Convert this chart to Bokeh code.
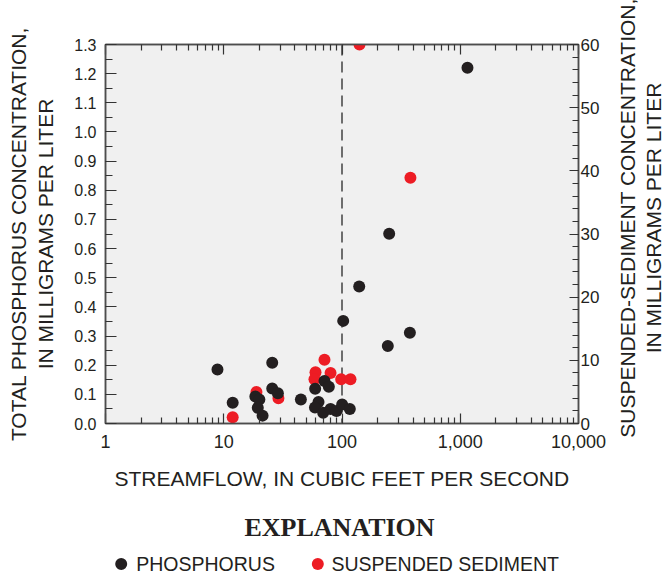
from bokeh.plotting import figure
from bokeh.layouts import column, row
from bokeh.models import (LinearAxis, LogAxis, Range1d, FixedTicker,
                          NumeralTickFormatter, Span)
from bokeh.core.properties import value
from bokeh.embed import file_html
from bokeh.resources import INLINE

# Streamflow (ft3/s) and total phosphorus (mg/L)
phos_flow = [8.85, 11.9, 25.7, 18.5, 20.0, 19.4, 21.3, 25.7, 28.7, 44.9,
             59.3, 63.3, 59.1, 69.3, 71.1, 77.4, 80.0, 89.9, 100.3, 116.4,
             102.4, 139.8, 250.6, 375.0, 244.0, 1151.0]
phos_conc = [0.185, 0.071, 0.208, 0.093, 0.082, 0.054, 0.027, 0.120, 0.104, 0.082,
             0.119, 0.074, 0.055, 0.037, 0.146, 0.126, 0.050, 0.043, 0.065, 0.050,
             0.352, 0.470, 0.651, 0.311, 0.266, 1.220]

# Streamflow (ft3/s) and suspended-sediment concentration (mg/L)
sed_flow = [11.9, 18.9, 29.0, 71.1, 59.7, 80.0, 58.5, 98.4, 118.0, 140.6, 379.0]
sed_conc = [1.0, 5.0, 4.0, 10.1, 8.1, 8.0, 7.0, 7.0, 7.0, 60.0, 38.9]

# Axis ticks
flow_major = [1, 10, 100, 1000, 10000]
flow_minor = [k * 10 ** d for d in range(4) for k in range(2, 10)]
phos_major = [round(i * 0.1, 1) for i in range(14)]
phos_minor = [round(i * 0.05, 2) for i in range(27)]
sed_major = list(range(0, 61, 10))
sed_minor = list(range(0, 61, 2))
threshold_flow = 100

series_names = ["PHOSPHORUS", "SUSPENDED SEDIMENT"]
explanation_title = "EXPLANATION"
sed_title = "SUSPENDED-SEDIMENT CONCENTRATION,\nIN MILLIGRAMS PER LITER"

BLACK = "#231f20"
RED = "#ed1c24"
AXIS = "#4d4d4d"
FONT = "Liberation Sans"

# page geometry (px)
TITLE_W = 58          # strip on the right holding the sediment axis title
MAIN_W = 665 - TITLE_W
MAIN_H = 500
KEY_H = 74
BORDER_L, BORDER_T, BORDER_B = 105, 44, 77
BORDER_R = MAIN_W - 578

p = figure(width=MAIN_W, height=MAIN_H, x_axis_type="log",
           x_range=Range1d(1, 10000), y_range=Range1d(0, 1.3),
           output_backend="svg", toolbar_location=None,
           min_border_left=BORDER_L, min_border_right=BORDER_R,
           min_border_top=BORDER_T, min_border_bottom=BORDER_B,
           background_fill_color="#f0f0f0", border_fill_color="white",
           outline_line_color=AXIS, outline_line_width=1.5)
p.extra_y_ranges = {"sed": Range1d(0, 60)}
p.grid.visible = False


def style(ax, label_size, title_size="21px"):
    ax.axis_line_color = AXIS
    ax.axis_line_width = 1.5
    ax.major_tick_line_color = "#333333"
    ax.minor_tick_line_color = "#333333"
    ax.major_tick_line_width = 1.2
    ax.minor_tick_line_width = 1.2
    ax.major_tick_out = 0
    ax.minor_tick_out = 0
    ax.major_label_text_font = FONT
    ax.major_label_text_font_size = label_size
    ax.major_label_text_color = BLACK
    ax.axis_label_text_font = FONT
    ax.axis_label_text_font_size = title_size
    ax.axis_label_text_font_style = "normal"
    ax.axis_label_text_color = BLACK


flow_ticker = FixedTicker(ticks=flow_major, minor_ticks=flow_minor)

# bottom axis
xb = p.xaxis[0]
xb.ticker = flow_ticker
xb.formatter = NumeralTickFormatter(format="0,0")
style(xb, "18px")
xb.major_tick_in = 10
xb.minor_tick_in = 6
xb.major_label_standoff = 11
xb.axis_label = "STREAMFLOW, IN CUBIC FEET PER SECOND"
xb.axis_label_standoff = 16

# top axis (ticks only, labels hidden)
xt = LogAxis(ticker=flow_ticker)
style(xt, "10px")
xt.major_tick_in = 10
xt.minor_tick_in = 6
xt.major_label_text_alpha = 0
xt.major_label_standoff = 0
p.add_layout(xt, "above")

# left axis: phosphorus
yl = p.yaxis[0]
yl.ticker = FixedTicker(ticks=phos_major, minor_ticks=phos_minor)
yl.formatter = NumeralTickFormatter(format="0.0")
style(yl, "16px")
yl.major_tick_in = 11
yl.minor_tick_in = 7
yl.major_label_standoff = 9
yl.axis_label = "TOTAL PHOSPHORUS CONCENTRATION,\nIN MILLIGRAMS PER LITER"
yl.axis_label_standoff = 14

# right axis: suspended sediment (title drawn in the strip beside)
yr = LinearAxis(y_range_name="sed",
                ticker=FixedTicker(ticks=sed_major, minor_ticks=sed_minor))
style(yr, "17px")
yr.major_tick_in = 9
yr.minor_tick_in = 6
yr.major_label_standoff = 2
p.add_layout(yr, "right")

# reference streamflow line
p.add_layout(Span(location=threshold_flow, dimension="height", line_color="#6d6d6d",
                  line_width=2, line_dash="11 6", level="underlay"))

p.scatter(sed_flow, sed_conc, y_range_name="sed", size=12,
          fill_color=RED, line_color=None)
p.scatter(phos_flow, phos_conc, size=12, fill_color=BLACK, line_color=None)

# right strip: sediment axis title, reading bottom to top
t = figure(width=TITLE_W, height=MAIN_H, x_range=Range1d(0, 1), y_range=Range1d(0, 60),
           output_backend="svg", toolbar_location=None, x_axis_location=None,
           min_border_left=TITLE_W - 1, min_border_right=0,
           min_border_top=BORDER_T - 16, min_border_bottom=BORDER_B + 16,
           outline_line_color=None, background_fill_color="white",
           border_fill_color="white")
t.grid.visible = False
ta = t.yaxis[0]
ta.ticker = FixedTicker(ticks=[])
ta.axis_line_color = None
ta.major_tick_line_color = None
ta.minor_tick_line_color = None
ta.major_label_standoff = 0
ta.axis_label = sed_title
ta.axis_label_standoff = 0
ta.axis_label_text_font = FONT
ta.axis_label_text_font_size = "21px"
ta.axis_label_text_font_style = "normal"
ta.axis_label_text_color = BLACK
ta.axis_label_text_line_height = 1.1

# explanation block below the chart; x in page pixels, y downward from its top
k = figure(width=MAIN_W, height=KEY_H, x_range=Range1d(BORDER_L, 578),
           y_range=Range1d(KEY_H, 0), output_backend="svg", toolbar_location=None,
           min_border_left=BORDER_L, min_border_right=BORDER_R,
           min_border_top=0, min_border_bottom=0, outline_line_color=None,
           background_fill_color="white", border_fill_color="white")
k.axis.visible = False
k.grid.visible = False

k.text(x=[339], y=[26.5], text=[explanation_title], text_align="center",
       text_baseline="middle", text_font=value("Liberation Serif"),
       text_font_style="bold", text_font_size="26px", text_color=BLACK)
k.scatter(x=[120.7, 317.3], y=[63.5, 63.5], size=12,
          fill_color=[BLACK, RED], line_color=None)
k.text(x=[135.7, 331], y=[63.5, 63.5], text=series_names, text_align="left",
       text_baseline="middle", text_font=value(FONT), text_font_size="19.5px",
       text_color=BLACK)

layout = row(column(p, k, spacing=0), t, spacing=0)
open("out.html", "w").write(file_html(layout, INLINE))
